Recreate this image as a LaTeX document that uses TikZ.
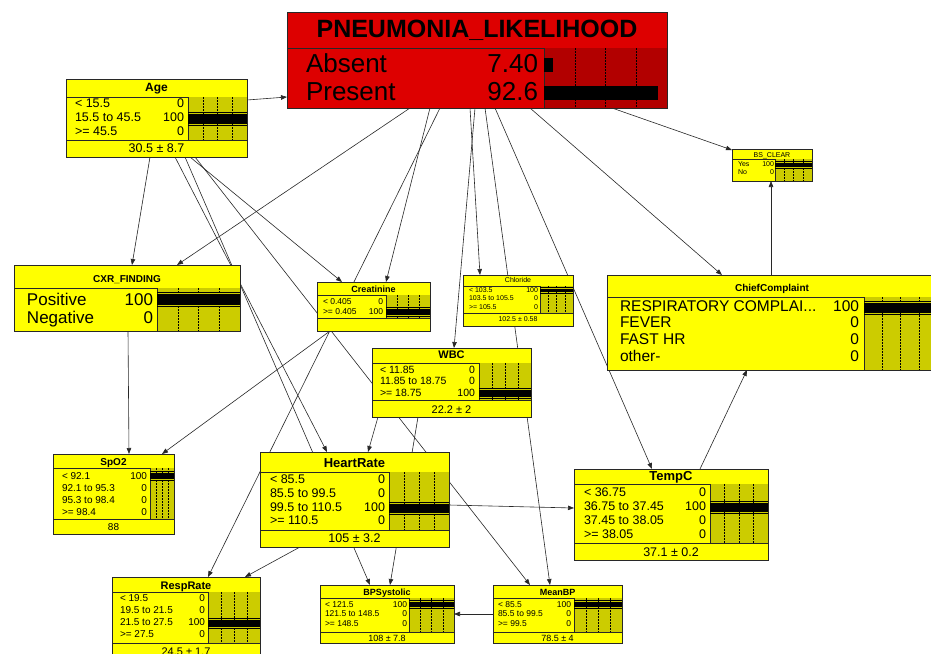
\documentclass[tikz,border=0pt]{standalone}
\usepackage{fontspec}
\setmainfont{Liberation Sans}
\usetikzlibrary{arrows.meta}
\definecolor{bnyellow}{RGB}{255,255,0}
\definecolor{bnolive}{RGB}{204,204,0}
\definecolor{bnred}{RGB}{221,0,0}
\definecolor{bndarkred}{RGB}{178,0,0}
\definecolor{bnink}{RGB}{40,40,40}
\pgfdeclarelayer{bg}
\pgfsetlayers{bg,main}

% filled box of a network node
\tikzset{
  bnbox/.style={rectangle, anchor=north west, inner sep=0pt, outer sep=0pt},
  bnborder/.style={draw=bnink, line width=0.8pt},
  bnrule/.style={draw=bnink, line width=0.7pt},
  bnticks/.style={draw=black, line width=0.45pt, dash pattern=on 1.5pt off 1.5pt},
  bnthin/.style={draw=black, line width=0.5pt},
  bntxt/.style={inner sep=0pt, outer sep=0pt},
  link/.style={draw=bnink, line width=0.6pt, -{Triangle[length=6pt,width=4.5pt]}},
}
% state row: name, text x, value x, baseline, label, value
\newcommand\bnrow[6]{%
  \node[bntxt, anchor=base west] (#1l) at (#2,#4) {#5};
  \node[bntxt, anchor=base east] (#1v) at (#3,#4) {#6};}
% belief-bar panel: x1, y1, x2, y2, colour
\newcommand\bnpanel[5]{%
  \fill[#5] (#1,#2) rectangle (#3,#4);
  \draw[bnrule] (#1,#2) -- (#1,#4);
  \foreach \k in {1,2,3}{\draw[bnticks] ({#1+\k*(#3-#1)/4},#2) -- ({#1+\k*(#3-#1)/4},#4);}}
% a certain (100) bar: x1, x2, top, bottom
\newcommand\bnfull[4]{%
  \draw[bnthin] (#1,#3) -- (#2,#3) (#1,#4) -- (#2,#4);
  \fill[black] (#1,#3+1.5) rectangle (#2,#4-1.5);}

\begin{document}
\begin{tikzpicture}[x=1pt,y=-1pt]
\useasboundingbox (0,0) rectangle (931,653);
\clip (0,0) rectangle (931,653);
\begin{pgfonlayer}{bg}
\fill[white] (-5,-5) rectangle (940,660);
\end{pgfonlayer}

% ---------- PNEUMONIA_LIKELIHOOD ----------
\node[bnbox, fill=bnred, minimum width=380pt, minimum height=96pt] (pneu) at (287,12) {};
\draw[bnrule] (287,48) -- (667,48);
\bnpanel{544}{48}{667}{108}{bndarkred}
\node[bntxt, anchor=base, font=\fontsize{25}{28}\selectfont\bfseries] (pneu-title) at (477,37) {PNEUMONIA\_LIKELIHOOD};
\begin{scope}[font=\fontsize{26}{30}\selectfont]
\bnrow{pneu-r1}{306}{538}{72}{Absent}{7.40}
\bnrow{pneu-r2}{306}{538}{100}{Present}{92.6}
\end{scope}
\fill[black] (544,58) rectangle (553,72);
\fill[black] (544,86) rectangle (658,100);
\draw[bnborder] (pneu.north west) rectangle (pneu.south east);

% ---------- Age ----------
\node[bnbox, fill=bnyellow, minimum width=181pt, minimum height=78pt] (age) at (66,79) {};
\draw[bnrule] (66,97) -- (247,97) (66,140) -- (247,140);
\bnpanel{188}{97}{247}{140}{bnolive}
\node[bntxt, anchor=base, font=\fontsize{12}{14}\selectfont\bfseries] (age-title) at (156.5,91) {Age};
\begin{scope}[font=\fontsize{12.5}{14}\selectfont]
\bnrow{age-r1}{75}{184}{107}{< 15.5}{0}
\bnrow{age-r2}{75}{184}{121.5}{15.5 to 45.5}{100}
\bnrow{age-r3}{75}{184}{135}{>= 45.5}{0}
\node[bntxt, anchor=base] (age-mean) at (156.5,152) {30.5 ± 8.7};
\end{scope}
\bnfull{188}{247}{112.5}{125}
\draw[bnborder] (age.north west) rectangle (age.south east);

% ---------- BS_CLEAR ----------
\node[bnbox, fill=bnyellow, minimum width=80pt, minimum height=32pt] (bs) at (732,149) {};
\draw[bnrule] (732,159) -- (812,159);
\bnpanel{775}{159}{812}{181}{bnolive}
\begin{scope}[font=\fontsize{7}{8}\selectfont]
\node[bntxt, anchor=base] (bs-title) at (772,157) {BS\_CLEAR};
\bnrow{bs-r1}{738}{774}{166}{Yes}{100}
\bnrow{bs-r2}{738}{774}{174}{No}{0}
\end{scope}
\bnfull{775}{812}{161.5}{168}
\draw[bnborder] (bs.north west) rectangle (bs.south east);

% ---------- CXR_FINDING ----------
\node[bnbox, fill=bnyellow, minimum width=226pt, minimum height=66pt] (cxr) at (14,265) {};
\draw[bnrule] (14,288) -- (240,288);
\bnpanel{157}{288}{240}{331}{bnolive}
\begin{scope}[font=\fontsize{17}{20}\selectfont]
\node[bntxt, anchor=base, font=\bfseries] (cxr-title) at (127,282) {CXR\_FINDING};
\bnrow{cxr-r1}{27}{153}{305}{Positive}{100}
\bnrow{cxr-r2}{27}{153}{323}{Negative}{0}
\end{scope}
\bnfull{157}{240}{292.5}{306.5}
\draw[bnborder] (cxr.north west) rectangle (cxr.south east);

% ---------- Creatinine ----------
\node[bnbox, fill=bnyellow, minimum width=113pt, minimum height=49pt] (creat) at (317,282) {};
\draw[bnrule] (317,295) -- (430,295) (317,318) -- (430,318);
\bnpanel{386}{295}{430}{318}{bnolive}
\node[bntxt, anchor=base, font=\fontsize{9}{10}\selectfont\bfseries] (creat-title) at (373.5,292) {Creatinine};
\begin{scope}[font=\fontsize{8.5}{10}\selectfont]
\bnrow{creat-r1}{323}{383}{304}{< 0.405}{0}
\bnrow{creat-r2}{323}{383}{314}{>= 0.405}{100}
\end{scope}
\bnfull{386}{430}{307}{316}
\draw[bnborder] (creat.north west) rectangle (creat.south east);

% ---------- Chloride ----------
\node[bnbox, fill=bnyellow, minimum width=110pt, minimum height=51pt] (chl) at (463,275) {};
\draw[bnrule] (463,286) -- (573,286) (463,313) -- (573,313);
\bnpanel{540}{286}{573}{313}{bnolive}
\begin{scope}[font=\fontsize{7}{8}\selectfont]
\node[bntxt, anchor=base] (chl-title) at (518,282.5) {Chloride};
\bnrow{chl-r1}{469}{538}{292}{< 103.5}{100}
\bnrow{chl-r2}{469}{538}{300.5}{103.5 to 105.5}{0}
\bnrow{chl-r3}{469}{538}{309}{>= 105.5}{0}
\node[bntxt, anchor=base] (chl-mean) at (518,321.5) {102.5 ± 0.58};
\end{scope}
\bnfull{540}{573}{287.5}{293.5}
\draw[bnborder] (chl.north west) rectangle (chl.south east);

% ---------- ChiefComplaint ----------
\node[bnbox, fill=bnyellow, minimum width=330pt, minimum height=95pt] (cc) at (607,275) {};
\draw[bnrule] (607,297) -- (937,297);
\bnpanel{864}{297}{937}{370}{bnolive}
\begin{scope}[font=\fontsize{15.5}{18}\selectfont]
\node[bntxt, anchor=base, font=\bfseries] (cc-title) at (772,291) {ChiefComplaint};
\bnrow{cc-r1}{620}{859}{311}{RESPIRATORY COMPLAI...}{100}
\bnrow{cc-r2}{620}{859}{327.5}{FEVER}{0}
\bnrow{cc-r3}{620}{859}{344.5}{FAST HR}{0}
\bnrow{cc-r4}{620}{859}{361.5}{other-}{0}
\end{scope}
\bnfull{864}{937}{301}{314}
\draw[bnborder] (cc.north west) rectangle (cc.south east);

% ---------- WBC ----------
\node[bnbox, fill=bnyellow, minimum width=159pt, minimum height=69pt] (wbc) at (372,348) {};
\draw[bnrule] (372,363) -- (531,363) (372,400) -- (531,400);
\bnpanel{479}{363}{531}{400}{bnolive}
\node[bntxt, anchor=base, font=\fontsize{11}{13}\selectfont\bfseries] (wbc-title) at (451.5,358) {WBC};
\begin{scope}[font=\fontsize{10.5}{12}\selectfont]
\bnrow{wbc-r1}{380}{475}{373}{< 11.85}{0}
\bnrow{wbc-r2}{380}{475}{384.5}{11.85 to 18.75}{0}
\bnrow{wbc-r3}{380}{475}{396}{>= 18.75}{100}
\node[bntxt, anchor=base, font=\fontsize{11}{13}\selectfont] (wbc-mean) at (451.5,413) {22.2 ± 2};
\end{scope}
\bnfull{479}{531}{388.5}{398.5}
\draw[bnborder] (wbc.north west) rectangle (wbc.south east);

% ---------- SpO2 ----------
\node[bnbox, fill=bnyellow, minimum width=121pt, minimum height=80pt] (spo) at (53,454) {};
\draw[bnrule] (53,468) -- (174,468) (53,519) -- (174,519);
\bnpanel{150}{468}{174}{519}{bnolive}
\node[bntxt, anchor=base, font=\fontsize{10}{12}\selectfont\bfseries] (spo-title) at (113.5,465) {SpO2};
\begin{scope}[font=\fontsize{10}{12}\selectfont]
\bnrow{spo-r1}{62}{147}{479}{< 92.1}{100}
\bnrow{spo-r2}{62}{147}{491}{92.1 to 95.3}{0}
\bnrow{spo-r3}{62}{147}{503}{95.3 to 98.4}{0}
\bnrow{spo-r4}{62}{147}{515}{>= 98.4}{0}
\node[bntxt, anchor=base] (spo-mean) at (113.5,530) {88};
\end{scope}
\bnfull{150}{174}{471}{480}
\draw[bnborder] (spo.north west) rectangle (spo.south east);

% ---------- HeartRate ----------
\node[bnbox, fill=bnyellow, minimum width=189pt, minimum height=95pt] (hr) at (260,452) {};
\draw[bnrule] (260,472) -- (449,472) (260,530) -- (449,530);
\bnpanel{389}{472}{449}{530}{bnolive}
\node[bntxt, anchor=base, font=\fontsize{13}{15}\selectfont\bfseries] (hr-title) at (354.5,467) {HeartRate};
\begin{scope}[font=\fontsize{12.5}{14}\selectfont]
\bnrow{hr-r1}{270}{385}{483}{< 85.5}{0}
\bnrow{hr-r2}{270}{385}{497}{85.5 to 99.5}{0}
\bnrow{hr-r3}{270}{385}{511}{99.5 to 110.5}{100}
\bnrow{hr-r4}{270}{385}{524}{>= 110.5}{0}
\node[bntxt, anchor=base] (hr-mean) at (354.5,542) {105 ± 3.2};
\end{scope}
\bnfull{389}{449}{502}{514}
\draw[bnborder] (hr.north west) rectangle (hr.south east);

% ---------- TempC ----------
\node[bnbox, fill=bnyellow, minimum width=194pt, minimum height=91pt] (tc) at (574,469) {};
\draw[bnrule] (574,484) -- (768,484) (574,543) -- (768,543);
\bnpanel{710}{484}{768}{543}{bnolive}
\node[bntxt, anchor=base, font=\fontsize{13}{15}\selectfont\bfseries] (tc-title) at (671,480) {TempC};
\begin{scope}[font=\fontsize{12.5}{14}\selectfont]
\bnrow{tc-r1}{584}{706}{496}{< 36.75}{0}
\bnrow{tc-r2}{584}{706}{510}{36.75 to 37.45}{100}
\bnrow{tc-r3}{584}{706}{524}{37.45 to 38.05}{0}
\bnrow{tc-r4}{584}{706}{538}{>= 38.05}{0}
\node[bntxt, anchor=base] (tc-mean) at (671,556) {37.1 ± 0.2};
\end{scope}
\bnfull{710}{768}{501.5}{513.5}
\draw[bnborder] (tc.north west) rectangle (tc.south east);

% ---------- RespRate ----------
\node[bnbox, fill=bnyellow, minimum width=148pt, minimum height=85pt] (rr) at (112,577) {};
\draw[bnrule] (112,592) -- (260,592) (112,643) -- (260,643);
\bnpanel{208}{592}{260}{643}{bnolive}
\node[bntxt, anchor=base, font=\fontsize{11}{13}\selectfont\bfseries] (rr-title) at (186,589) {RespRate};
\begin{scope}[font=\fontsize{10}{12}\selectfont]
\bnrow{rr-r1}{120}{205}{601.5}{< 19.5}{0}
\bnrow{rr-r2}{120}{205}{613.5}{19.5 to 21.5}{0}
\bnrow{rr-r3}{120}{205}{625.5}{21.5 to 27.5}{100}
\bnrow{rr-r4}{120}{205}{637.5}{>= 27.5}{0}
\node[bntxt, anchor=base, font=\fontsize{11}{13}\selectfont] (rr-mean) at (186,655) {24.5 ± 1.7};
\end{scope}
\bnfull{208}{260}{618.5}{628.5}
\draw[bnborder] (rr.north west) rectangle (rr.south east);

% ---------- BPSystolic ----------
\node[bnbox, fill=bnyellow, minimum width=134pt, minimum height=58pt] (bps) at (320,585) {};
\draw[bnrule] (320,598) -- (454,598) (320,632) -- (454,632);
\bnpanel{409}{598}{454}{632}{bnolive}
\node[bntxt, anchor=base, font=\fontsize{9}{10}\selectfont\bfseries] (bps-title) at (387,595) {BPSystolic};
\begin{scope}[font=\fontsize{8.5}{10}\selectfont]
\bnrow{bps-r1}{325}{407}{607}{< 121.5}{100}
\bnrow{bps-r2}{325}{407}{616.5}{121.5 to 148.5}{0}
\bnrow{bps-r3}{325}{407}{626}{>= 148.5}{0}
\node[bntxt, anchor=base, font=\fontsize{9}{10}\selectfont] (bps-mean) at (387,641) {108 ± 7.8};
\end{scope}
\bnfull{409}{454}{600.5}{608.5}
\draw[bnborder] (bps.north west) rectangle (bps.south east);

% ---------- MeanBP ----------
\node[bnbox, fill=bnyellow, minimum width=129pt, minimum height=58pt] (mbp) at (493,585) {};
\draw[bnrule] (493,598) -- (622,598) (493,632) -- (622,632);
\bnpanel{574}{598}{622}{632}{bnolive}
\node[bntxt, anchor=base, font=\fontsize{9}{10}\selectfont\bfseries] (mbp-title) at (557.5,595) {MeanBP};
\begin{scope}[font=\fontsize{8.5}{10}\selectfont]
\bnrow{mbp-r1}{498}{571}{607}{< 85.5}{100}
\bnrow{mbp-r2}{498}{571}{616.5}{85.5 to 99.5}{0}
\bnrow{mbp-r3}{498}{571}{626}{>= 99.5}{0}
\node[bntxt, anchor=base, font=\fontsize{9}{10}\selectfont] (mbp-mean) at (557.5,641) {78.5 ± 4};
\end{scope}
\bnfull{574}{622}{600.5}{608.5}
\draw[bnborder] (mbp.north west) rectangle (mbp.south east);

% ---------- links (behind the boxes) ----------
\begin{pgfonlayer}{bg}
\draw[link] ([shift={(181,21)}]age.north west) -- ([shift={(0,85)}]pneu.north west);
\draw[link] ([shift={(325,96)}]pneu.north west) -- ([shift={(0,1)}]bs.north west);
\draw[link] ([shift={(164,0)}]cc.north west) -- ([shift={(39,32)}]bs.north west);
\draw[link] ([shift={(243,96)}]pneu.north west) -- ([shift={(115,0)}]cc.north west);
\draw[link] ([shift={(123,96)}]pneu.north west) -- ([shift={(163,0)}]cxr.north west);
\draw[link] ([shift={(84,78)}]age.north west) -- ([shift={(118,0)}]cxr.north west);
\draw[link] ([shift={(114,66)}]cxr.north west) -- ([shift={(76,0)}]spo.north west);
\draw[link] ([shift={(13,49)}]creat.north west) -- ([shift={(109,0)}]spo.north west);
\draw[link] ([shift={(109,78)}]age.north west) -- ([shift={(67,0)}]hr.north west);
\draw[link] ([shift={(119,78)}]age.north west) -- ([shift={(50,0)}]bps.north west);
\draw[link] ([shift={(124,78)}]age.north west) -- ([shift={(25,0)}]creat.north west);
\draw[link] ([shift={(129,78)}]age.north west) -- ([shift={(37,0)}]mbp.north west);
\draw[link] ([shift={(143,96)}]pneu.north west) -- ([shift={(69,0)}]creat.north west);
\draw[link] ([shift={(183,96)}]pneu.north west) -- ([shift={(17,0)}]chl.north west);
\draw[link] ([shift={(188,96)}]pneu.north west) -- ([shift={(82,0)}]wbc.north west);
\draw[link] ([shift={(153,96)}]pneu.north west) -- ([shift={(96,0)}]rr.north west);
\draw[link] ([shift={(208,96)}]pneu.north west) -- ([shift={(78,0)}]tc.north west);
\draw[link] ([shift={(198,96)}]pneu.north west) -- ([shift={(57,0)}]mbp.north west);
\draw[link] ([shift={(6,69)}]wbc.north west) -- ([shift={(108,0)}]hr.north west);
\draw[link] ([shift={(46,69)}]wbc.north west) -- ([shift={(70,0)}]bps.north west);
\draw[link] ([shift={(40,95)}]hr.north west) -- ([shift={(133,0)}]rr.north west);
\draw[link] ([shift={(189,53)}]hr.north west) -- ([shift={(0,39)}]tc.north west);
\draw[link] ([shift={(126,0)}]tc.north west) -- ([shift={(140,95)}]cc.north west);
\draw[link] ([shift={(0,29)}]mbp.north west) -- ([shift={(134,29)}]bps.north west);
\end{pgfonlayer}
\end{tikzpicture}
\end{document}
